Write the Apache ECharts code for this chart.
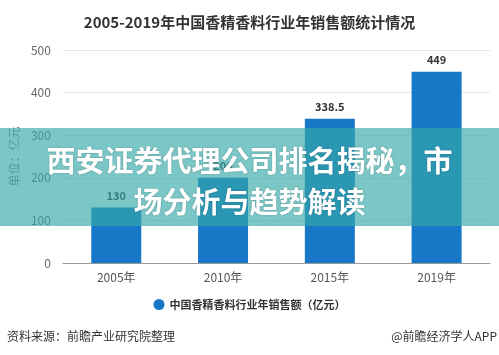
<!DOCTYPE html>
<html>
<head>
<meta charset="utf-8">
<script src="https://cdn.jsdelivr.net/npm/echarts@6/dist/echarts.min.js"></script>
<style>
html,body{margin:0;padding:0;background:#fff;}
#c{width:499px;height:355px;}
</style>
</head>
<body>
<div id="c"></div>
<script>
const categories = ['2005年', '2010年', '2015年', '2019年'];
const salesValues = [130, 200, 338.5, 449];
const yTicks = [0, 100, 200, 300, 400, 500];
const seriesName = '中国香精香料行业年销售额（亿元）';
const titleText = '2005-2019年中国香精香料行业年销售额统计情况';
const bannerLines = ['西安证券代理公司排名揭秘，市', '场分析与趋势解读'];
const sourceText = '资料来源：前瞻产业研究院整理';
const creditText = '@前瞻经济学人APP';

const FONT = '"Microsoft YaHei","Noto Sans CJK SC",sans-serif';
const chart = echarts.init(document.getElementById('c'), null, {renderer: 'canvas'});
chart.setOption({
  animation: false,
  textStyle: {fontFamily: FONT},
  title: {
    text: titleText, left: 'center', top: 10,
    textStyle: {fontSize: 15, fontWeight: 'bold', color: '#333', fontFamily: FONT}
  },
  grid: {left: 62, right: 9, top: 50, bottom: 92},
  legend: {
    bottom: 40, left: 'center', icon: 'circle', itemWidth: 11, itemHeight: 11, itemGap: 8,
    textStyle: {fontSize: 11, fontWeight: 'bold', color: '#333', fontFamily: FONT},
    data: [seriesName]
  },
  xAxis: {
    type: 'category', data: categories,
    axisLine: {lineStyle: {color: '#999'}},
    axisTick: {alignWithLabel: true, length: 4, lineStyle: {color: '#999'}},
    axisLabel: {fontSize: 12, color: '#555', margin: 8}
  },
  yAxis: {
    type: 'value', min: yTicks[0], max: yTicks[yTicks.length - 1], interval: 100,
    name: '单位：亿元', nameLocation: 'middle', nameRotate: 90, nameGap: 38,
    nameTextStyle: {fontSize: 12, color: '#888'},
    axisLine: {show: false}, axisTick: {show: false},
    axisLabel: {fontSize: 12, color: '#666', margin: 12},
    splitLine: {lineStyle: {color: '#e6e6e6'}}
  },
  series: [{
    name: seriesName, type: 'bar', data: salesValues, barWidth: 50,
    itemStyle: {color: '#1878c8'},
    label: {show: true, position: 'top', fontSize: 11, fontWeight: 'bold', color: '#333', distance: 6}
  }],
  graphic: [
    {type: 'rect', left: 0, top: 128, z: 100, shape: {width: 499, height: 98},
     style: {fill: 'rgba(52,168,168,0.65)'}},
    {type: 'text', left: 'center', top: 140, z: 101,
     style: {text: bannerLines.join('\n'), fill: '#fff', font: 'bold 29px "Noto Sans CJK SC", sans-serif',
       textAlign: 'center', lineHeight: 41, textShadowColor: 'rgba(0,0,0,0.25)', textShadowBlur: 2}},
    {type: 'text', left: 7, top: 330, z: 50,
     style: {text: sourceText, fill: '#333', font: '12px "Noto Sans CJK SC", sans-serif'}},
    {type: 'text', right: 2, top: 330, z: 50,
     style: {text: creditText, fill: '#333', font: '12px "Noto Sans CJK SC", sans-serif'}}
  ]
});
</script>
</body>
</html>
